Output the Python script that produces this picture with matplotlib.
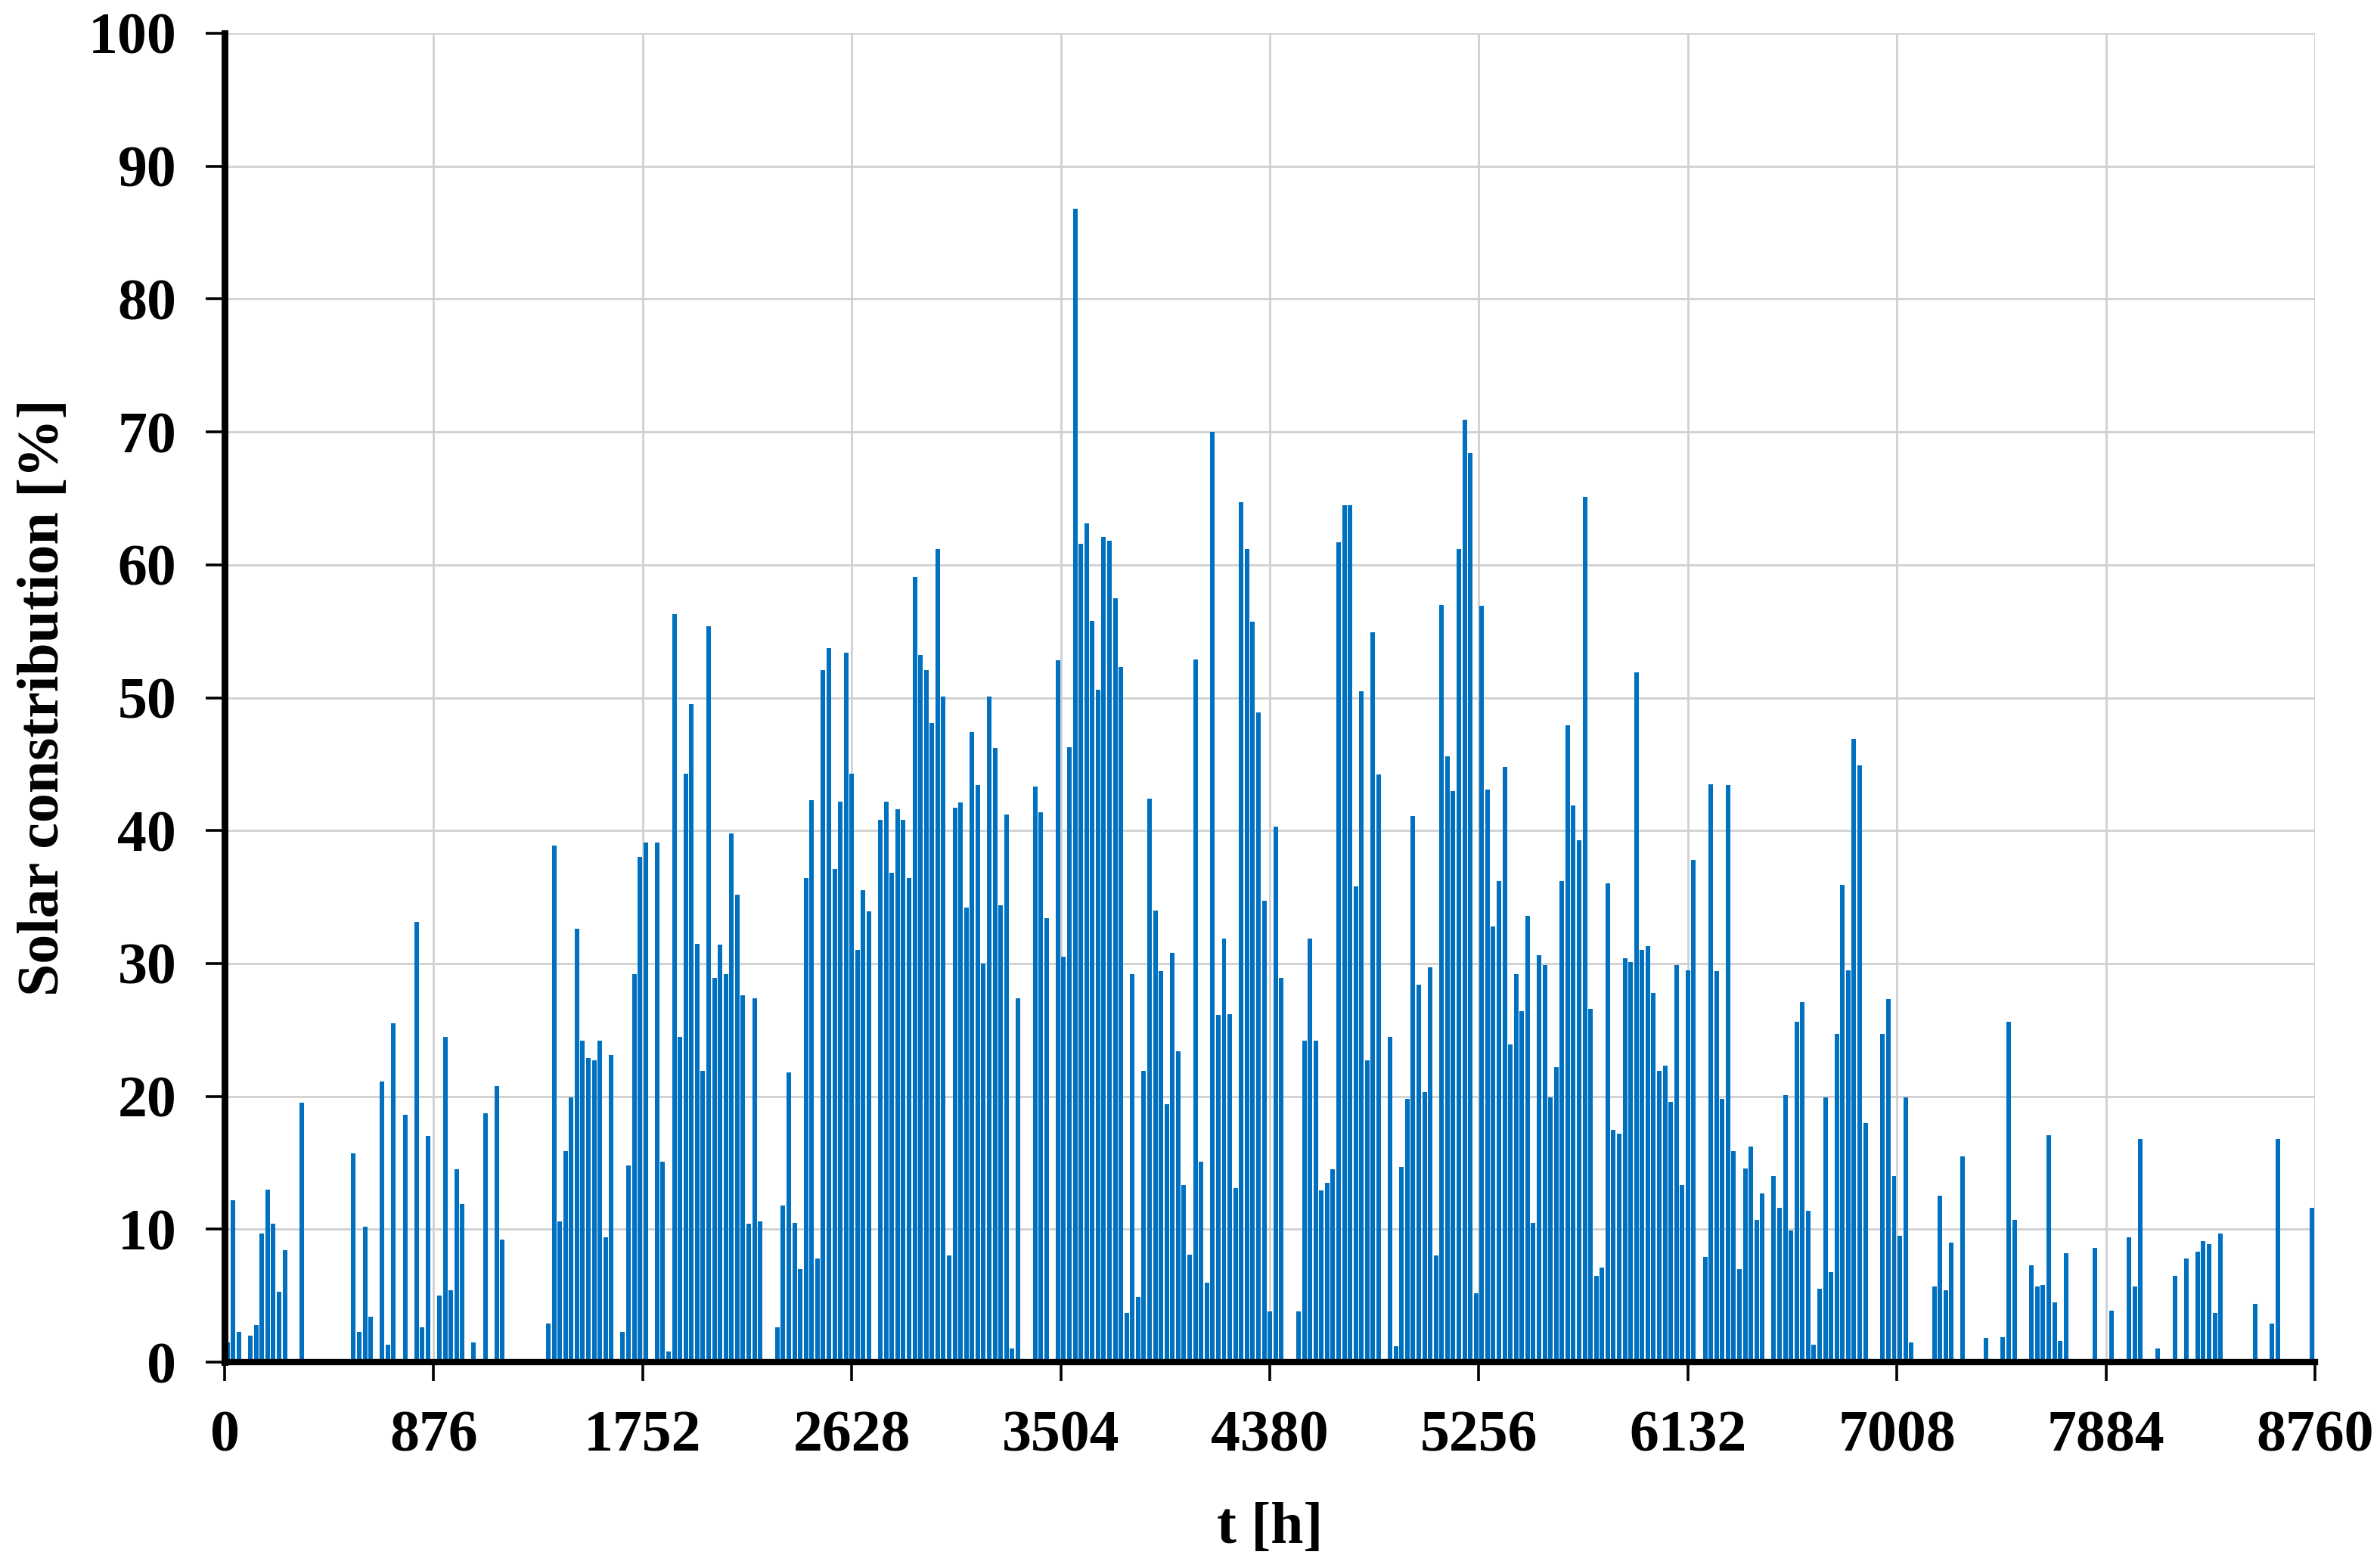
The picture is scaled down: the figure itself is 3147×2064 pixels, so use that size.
import matplotlib
matplotlib.use("Agg")
import matplotlib.pyplot as plt

# day of year (0 = 1 January) and the peak hourly solar contribution [%] of that day
days_jan = [0, 1, 2, 4, 5, 6, 7, 8, 9, 10, 13, 22, 23, 24, 25, 27, 28, 29]
peak_jan = [1.5, 12.2, 2.3, 2.0, 2.8, 9.7, 13.0, 10.4, 5.3, 8.4, 19.5, 15.7, 2.3, 10.2, 3.4, 21.1, 1.3, 25.5]

days_feb = [31, 33, 34, 35, 37, 38, 39, 40, 41, 43, 45, 47, 48, 56, 57, 58]
peak_feb = [18.6, 33.1, 2.6, 17.0, 5.0, 24.5, 5.4, 14.5, 11.9, 1.5, 18.7, 20.8, 9.2, 2.9, 38.9, 10.6]

days_mar = [59, 60, 61, 62, 63, 64, 65, 66, 67, 69, 70, 71, 72, 73, 75, 76, 77, 78, 79,
            80, 81, 82, 83, 84, 85, 86, 87, 88, 89]
peak_mar = [15.9, 19.9, 32.6, 24.2, 22.9, 22.7, 24.2, 9.4, 23.1, 2.3, 14.8, 29.2, 38.0, 39.1, 39.1, 15.1, 0.8, 56.3, 24.5,
            44.3, 49.5, 31.5, 21.9, 55.4, 28.9, 31.4, 29.2, 39.8, 35.2]

days_apr = [90, 91, 92, 93, 96, 97, 98, 99, 100, 101, 102, 103, 104, 105,
            106, 107, 108, 109, 110, 111, 112, 114, 115, 116, 117, 118, 119]
peak_apr = [27.6, 10.4, 27.4, 10.6, 2.6, 11.8, 21.8, 10.5, 7.0, 36.4, 42.3, 7.8, 52.1, 53.7,
            37.1, 42.2, 53.4, 44.3, 31.0, 35.5, 33.9, 40.8, 42.2, 36.8, 41.6, 40.8, 36.4]

days_may = [120, 121, 122, 123, 124, 125, 126, 127, 128, 129, 130, 131, 132, 133, 134, 135, 136, 137,
            138, 141, 142, 143, 145, 146, 147, 148, 149, 150]
peak_may = [59.1, 53.2, 52.1, 48.1, 61.2, 50.1, 8.0, 41.7, 42.1, 34.2, 47.4, 43.4, 30.0, 50.1, 46.2, 34.4, 41.2, 1.0,
            27.4, 43.3, 41.4, 33.4, 52.8, 30.5, 46.3, 86.8, 61.6, 63.1]

days_jun = [151, 152, 153, 154, 155, 156, 157, 158, 159, 160, 161, 162, 163, 164, 165,
            166, 167, 168, 169, 170, 171, 172, 173, 174, 175, 176, 177, 178, 179, 180]
peak_jun = [55.8, 50.6, 62.1, 61.8, 57.5, 52.3, 3.7, 29.2, 4.9, 21.9, 42.4, 34.0, 29.4, 19.4, 30.8,
            23.4, 13.3, 8.1, 52.9, 15.1, 6.0, 70.0, 26.1, 31.9, 26.2, 13.1, 64.7, 61.2, 55.7, 48.9]

days_jul = [181, 182, 183, 184, 187, 188, 189, 190, 191, 192, 193, 194, 195, 196, 197,
            198, 199, 200, 201, 203, 204, 205, 206, 207, 208, 209, 210, 211]
peak_jul = [34.7, 3.8, 40.3, 28.9, 3.8, 24.2, 31.9, 24.2, 12.9, 13.5, 14.5, 61.7, 64.5, 64.5, 35.8,
            50.5, 22.7, 54.9, 44.2, 24.5, 1.2, 14.7, 19.8, 41.1, 28.4, 20.3, 29.7, 8.0]

days_aug = [212, 213, 214, 215, 216, 217, 218, 219, 220, 221, 222, 223, 224, 225, 226, 227,
            228, 229, 230, 231, 232, 233, 234, 235, 236, 237, 238, 239, 240, 241, 242]
peak_aug = [57.0, 45.6, 43.0, 61.2, 70.9, 68.4, 5.2, 56.9, 43.1, 32.8, 36.2, 44.8, 23.9, 29.2, 26.4, 33.6,
            10.5, 30.6, 29.9, 19.9, 22.2, 36.2, 47.9, 41.9, 39.3, 65.1, 26.6, 6.5, 7.1, 36.0, 17.5]

days_sep = [243, 244, 245, 246, 247, 248, 249, 250, 251, 252, 253, 254, 255, 256,
            258, 259, 260, 261, 262, 263, 264, 265, 266, 267, 268, 270, 271, 272]
peak_sep = [17.2, 30.4, 30.1, 51.9, 31.0, 31.3, 27.8, 21.9, 22.3, 19.6, 29.9, 13.3, 29.5, 37.8,
            7.9, 43.5, 29.4, 19.8, 43.4, 15.9, 7.0, 14.6, 16.2, 10.7, 12.7, 14.0, 11.6, 20.1]

days_oct = [273, 274, 275, 276, 277, 278, 279, 280, 281, 282, 283, 284, 285, 286,
            289, 290, 291, 292, 293, 294, 298, 299, 300, 301, 303]
peak_oct = [9.9, 25.6, 27.1, 11.4, 1.3, 5.5, 19.9, 6.8, 24.7, 35.9, 29.5, 46.9, 44.9, 18.0,
            24.7, 27.3, 14.0, 9.5, 19.9, 1.5, 5.7, 12.5, 5.4, 9.0, 15.5]

days_nov = [307, 310, 311, 312, 315, 316, 317, 318, 319, 320, 321, 326, 329, 332, 333]
peak_nov = [1.8, 1.9, 25.6, 10.7, 7.3, 5.7, 5.8, 17.1, 4.5, 1.6, 8.2, 8.6, 3.9, 9.4, 5.7]

days_dec = [334, 337, 340, 342, 344, 345, 346, 347, 348, 354, 357, 358, 364]
peak_dec = [16.8, 1.0, 6.5, 7.8, 8.3, 9.1, 8.9, 3.7, 9.7, 4.4, 2.9, 16.8, 11.6]

x_ticks = [0, 876, 1752, 2628, 3504, 4380, 5256, 6132, 7008, 7884, 8760]
y_ticks = [0, 10, 20, 30, 40, 50, 60, 70, 80, 90, 100]

days = (days_jan + days_feb + days_mar + days_apr + days_may + days_jun
        + days_jul + days_aug + days_sep + days_oct + days_nov + days_dec)
peaks = (peak_jan + peak_feb + peak_mar + peak_apr + peak_may + peak_jun
         + peak_jul + peak_aug + peak_sep + peak_oct + peak_nov + peak_dec)
assert len(days) == len(peaks)
hours = [d * 24 + 12 for d in days]

plt.rcParams['font.family'] = ['Liberation Serif', 'DejaVu Serif']
plt.rcParams['font.weight'] = 'bold'

fig = plt.figure(figsize=(15.735, 10.32), dpi=200)
ax = fig.add_axes([0.0944, 0.1274, 0.8783, 0.8513])

ax.bar(hours, peaks, width=19, color='#0070C0', linewidth=0)

ax.set_xlim(0, 8760)
ax.set_ylim(0, 100)
ax.set_xticks(x_ticks)
ax.set_yticks(y_ticks)
ax.grid(True, color='#d0d0d0', linewidth=1.0)
ax.set_axisbelow(True)

for side in ['top', 'right']:
    ax.spines[side].set_visible(False)
ax.spines['left'].set_linewidth(3.2)
ax.spines['bottom'].set_linewidth(3.0)

ax.tick_params(axis='both', direction='out', length=9, width=1.3, labelsize=28, pad=14)
for lab in ax.get_xticklabels() + ax.get_yticklabels():
    lab.set_fontweight('bold')

ax.set_xlabel('t [h]', fontsize=28, fontweight='bold', labelpad=18)
ax.set_ylabel('Solar constribution [%]', fontsize=28, fontweight='bold', labelpad=8)

fig.savefig('out.png', dpi=200)
